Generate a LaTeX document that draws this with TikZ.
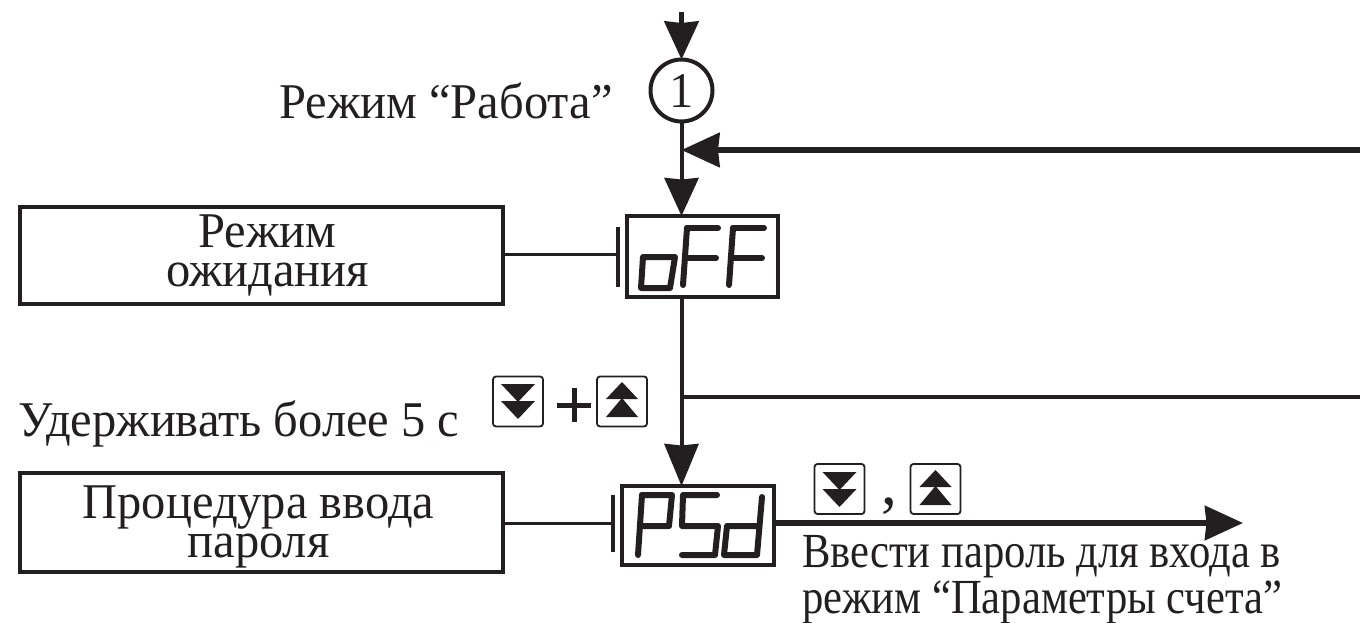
\documentclass[tikz,border=0pt]{standalone}
\usepackage{fontspec}
\setmainfont[FakeStretch=0.97]{Liberation Serif}
\newfontfamily\condfont[FakeStretch=0.87]{Liberation Serif}
\usetikzlibrary{arrows.meta}
\definecolor{ink}{HTML}{231F20}
\tikzset{
  x=1pt,y=-1pt,
  every node/.style={text=ink,inner sep=0pt,outer sep=0pt},
  lbl/.style={font=\fontsize{50}{38.5}\selectfont,align=center},
  lblbox/.style={draw=ink,line width=3.5pt,minimum width=483pt,lbl},
  disp/.style={draw=ink,line width=3.5pt,minimum height=81pt},
  circ/.style={circle,draw=ink,line width=4pt,minimum size=62pt,font=\fontsize{50}{50}\selectfont},
  wire/.style={draw=ink,line width=4pt},
  thick wire/.style={draw=ink,line width=5.5pt},
  arr/.style={-{Stealth[inset=1.5pt,length=38pt,width=34pt,color=ink]}},
  bar/.style={draw=ink,line width=3.5pt},
  seg/.style={draw=ink,line width=6pt,line cap=round,line join=round},
  btn/.style={draw=ink,line width=1.8pt,rounded corners=3pt,minimum size=50pt}
}
\newcommand{\btndown}[2]{%
  \fill[ink] (#1-17,#2-17) -- (#1+17,#2-17) -- (#1,#2+1) -- cycle;
  \fill[ink] (#1-17,#2+0) -- (#1+17,#2+0) -- (#1,#2+18) -- cycle;}
\newcommand{\btnup}[2]{%
  \fill[ink] (#1-16,#2-2) -- (#1+16,#2-2) -- (#1,#2-19) -- cycle;
  \fill[ink] (#1-16,#2+16) -- (#1+16,#2+16) -- (#1,#2-3) -- cycle;}
\begin{document}
\begin{tikzpicture}
\useasboundingbox (0,0) rectangle (1363,623);
% nodes
\node[circ] (c1) at (681.5,90.5) {1};
\node[disp,minimum width=151pt] (off) at (702.5,256.5) {};
\node[disp,minimum width=152pt,minimum height=79pt] (psd) at (698,525.5) {};
\node[lblbox,minimum height=97pt] (b1) at (261.5,255.5) {\hspace*{12pt}Режим\\\hspace*{12pt}ожидания};
\node[lblbox,minimum height=99pt] (b2) at (261.5,522.5) {\hspace*{-6pt}\rule{0pt}{42pt}Процедура ввода\\\hspace*{-6pt}пароля};
\node[lbl,anchor=base] (t1) at (446,119) {Режим “Работа”};
\node[lbl,anchor=base] (t2) at (239,436) {Удерживать более 5 с};
\node[lbl,align=left,font=\condfont\fontsize{49}{46}\selectfont,anchor=north west] (t3) at (802,535) {Ввести пароль для входа в\\режим “Параметры счета”};
\node[lbl,font=\fontsize{65}{65}\selectfont] (comma) at (889,506) {,};
% free ends
\coordinate (top) at (681.5,12);
\coordinate (r1) at (1360,150);
\coordinate (r2) at (1360,397);
\coordinate (j1) at (681.5,150);
\coordinate (j2) at (681.5,397);
\coordinate (out) at (1243,523);
\coordinate (bar1) at (618,254);
\coordinate (bar2) at (613,523);
% connectors
\draw[wire,arr,line width=5.5pt] (top) -- (c1.north);
\draw[wire,arr] (c1.south) -- (c1 |- off.north);
\draw[thick wire,arr] (r1) -- (j1);
\draw[wire] (c1 |- off.south) -- (j2);
\draw[wire,-{Stealth[inset=1.5pt,length=42pt,width=34pt,color=ink]}] (j2) -- (c1 |- psd.north);
\draw[wire] (j2) -- (r2);
\draw[thick wire,arr] (psd.east |- out) -- (out);
\draw[wire,line width=3pt] (b1.east |- bar1) -- (bar1);
\draw[wire,line width=3pt] (b2.east |- bar2) -- (bar2);
\draw[bar] (618,227) -- (618,287);
\draw[bar] (613,495) -- (613,552);
% oFF display
\draw[seg] (643,257) -- (675,257) -- (670,288) -- (641,288) -- cycle;
\draw[seg] (687,228) -- (683,285);
\draw[seg] (687,228) -- (718,228);
\draw[seg] (686,258) -- (716,258);
\draw[seg] (733,228) -- (729,285);
\draw[seg] (733,228) -- (764,228);
\draw[seg] (732,258) -- (762,258);
% PSd display
\draw[seg] (642,495) -- (638,555);
\draw[seg] (642,495) -- (672,495) -- (669,526) -- (640,526);
\draw[seg] (717,495) -- (683,495) -- (682,526) -- (718,526) -- (715,555) -- (682,555);
\draw[seg] (762,497) -- (757,555) -- (724,555) -- (727,526) -- (759,526);
% buttons
\node[btn] (k1) at (518,401.5) {};
\node[btn] (k2) at (622,401.5) {};
\node[btn] (k3) at (839.5,489) {};
\node[btn] (k4) at (935.5,489) {};
\btndown{518}{401}
\btnup{622}{401}
\btndown{839.5}{489}
\btnup{935.5}{489}
\draw[draw=ink,line width=5pt] (557,405) -- (591,405) (574,388) -- (574,422);
\end{tikzpicture}
\end{document}
